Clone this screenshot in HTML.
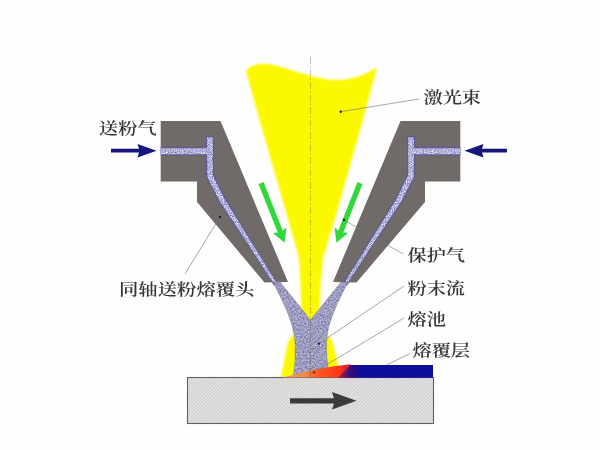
<!DOCTYPE html>
<html lang="zh">
<head>
<meta charset="utf-8">
<title>同轴送粉激光熔覆</title>
<style>
html,body{margin:0;padding:0;background:#fefefe;}
body{width:600px;height:450px;overflow:hidden;}
svg{display:block;}
text{font-family:"Liberation Serif","Noto Serif CJK SC",serif;font-size:16px;font-weight:600;fill:#363636;}
</style>
</head>
<body>
<svg width="600" height="450" viewBox="0 0 600 450">
<defs>
  <pattern id="hatch" width="2.4" height="2.4" patternUnits="userSpaceOnUse" patternTransform="rotate(-45)">
    <rect width="2.4" height="2.4" fill="#e7e7e7"/>
    <rect width="2.4" height="1" fill="#c8c8c8"/>
  </pattern>
  <pattern id="powder" width="4" height="4" patternUnits="userSpaceOnUse">
    <rect width="4" height="4" fill="#a9a9c4"/>
    <rect x="0" y="0" width="1" height="1" fill="#e2e2f2"/>
    <rect x="2" y="1" width="1" height="1" fill="#6a6a9c"/>
    <rect x="1" y="2" width="1" height="1" fill="#d4d4ea"/>
    <rect x="3" y="3" width="1" height="1" fill="#74749e"/>
    <rect x="0" y="3" width="1" height="1" fill="#8c8cb2"/>
    <rect x="3" y="0" width="1" height="1" fill="#c0c0dc"/>
  </pattern>
  <pattern id="powderL" width="3" height="3" patternUnits="userSpaceOnUse">
    <rect width="3" height="3" fill="#c6c6e0"/>
    <rect x="0" y="0" width="1" height="1" fill="#f0f0fa"/>
    <rect x="2" y="1" width="1" height="1" fill="#8c8cc0"/>
    <rect x="1" y="2" width="1" height="1" fill="#e4e4f4"/>
  </pattern>
  <linearGradient id="pool" x1="284" y1="0" x2="350" y2="0" gradientUnits="userSpaceOnUse">
    <stop offset="0" stop-color="#e6a470"/>
    <stop offset="0.3" stop-color="#f08a48"/>
    <stop offset="0.52" stop-color="#ff5a20"/>
    <stop offset="0.85" stop-color="#ff3218"/>
    <stop offset="1" stop-color="#c81c3c"/>
  </linearGradient>
  <linearGradient id="clad" x1="340" y1="0" x2="362" y2="0" gradientUnits="userSpaceOnUse">
    <stop offset="0" stop-color="#a81a48"/>
    <stop offset="0.45" stop-color="#3a1078"/>
    <stop offset="1" stop-color="#0a0a9c"/>
  </linearGradient>
  <filter id="speckle" x="0" y="0" width="100%" height="100%" color-interpolation-filters="sRGB">
    <feTurbulence type="fractalNoise" baseFrequency="0.6" numOctaves="2" seed="7" result="n"/>
    <feColorMatrix in="n" type="matrix" values="0.6 0 0 0 0.31  0.6 0 0 0 0.31  0.45 0 0 0 0.53  0 0 0 0 1" result="c"/>
    <feComposite in="c" in2="SourceGraphic" operator="in"/>
  </filter>
  <filter id="speckleL" x="0" y="0" width="100%" height="100%" color-interpolation-filters="sRGB">
    <feTurbulence type="fractalNoise" baseFrequency="0.9" numOctaves="2" seed="11" result="n"/>
    <feColorMatrix in="n" type="matrix" values="0.9 0 0 0 0.26  0.9 0 0 0 0.25  0.65 0 0 0 0.53  0 0 0 0 1" result="c"/>
    <feComposite in="c" in2="SourceGraphic" operator="in"/>
  </filter>
  <filter id="chblur" x="-5%" y="-5%" width="110%" height="110%"><feGaussianBlur stdDeviation="0.45"/></filter>
  <filter id="soft" x="-5%" y="-5%" width="110%" height="110%"><feGaussianBlur stdDeviation="0.6"/></filter>
  <filter id="glow" x="-20%" y="-20%" width="140%" height="140%"><feGaussianBlur stdDeviation="1.2"/></filter>
</defs>
<rect width="600" height="450" fill="#fefefe"/>
<g filter="url(#soft)">
  <!-- laser beam -->
  <path d="M246,71 C251,63 264,62 278,66 C298,72 320,80 337,80 C352,80 367,74 377,67 L363,120 L351.5,160 L337.5,210 L323,258 L320.5,285 L319,322 C322,330 330,336 332.5,342 C335,350 337,362 341,377 L281,377 C284,362 286,350 288,342 C291,336 299,330 302,322 L300.5,285 L299,258 L285.5,210 L271,160 L259.5,120 Z" fill="#fcf800" filter="url(#glow)"/>
  <!-- nozzle left -->
  <path d="M160.7,121 L220.5,121 L288,282 L264.5,282.5 L197,202 L197,181.5 L160.7,181.5 Z" fill="#6f6b68"/>
  <!-- nozzle right -->
  <path d="M460.3,121 L400.5,121 L333,282 L356.5,282.5 L425,202 L425,181.5 L460.3,181.5 Z" fill="#6f6b68"/>
  <!-- powder channels -->
  <g filter="url(#chblur)">
    <path d="M160.7,146.8 L210,146.8 L210,155.6 L160.7,155.6 Z M214.2,135.8 L214.1,175.0 L225.4,198.1 L251.5,240.4 L277.9,283.3 L274.1,285.7 L246.5,243.6 L218.6,201.9 L205.9,177.0 L205.8,135.8 Z" fill="#5e5c94"/>
    <path d="M160.7,148.2 L210,148.2 L210,154.3 L160.7,154.3 Z M212.9,137.2 L212.8,175.3 L224.3,198.7 L250.6,241.0 L277.2,283.7 L274.8,285.3 L247.4,243.0 L219.7,201.3 L207.2,176.7 L207.1,137.2 Z" fill="#c6c6e0" filter="url(#speckleL)"/>
    <path d="M460.3,146.8 L411,146.8 L411,155.6 L460.3,155.6 Z M406.8,135.8 L406.9,175.0 L395.6,198.1 L369.5,240.4 L343.1,283.3 L346.9,285.7 L374.5,243.6 L402.4,201.9 L415.1,177.0 L415.2,135.8 Z" fill="#5e5c94"/>
    <path d="M460.3,148.2 L411,148.2 L411,154.3 L460.3,154.3 Z M408.1,137.2 L408.2,175.3 L396.7,198.7 L370.4,241.0 L343.8,283.7 L346.2,285.3 L373.6,243.0 L401.3,201.3 L413.8,176.7 L413.9,137.2 Z" fill="#c6c6e0" filter="url(#speckleL)"/>
  </g>
  <!-- powder stream -->
  <path d="M273,282 L280,282 L310.5,320 L341,282 L348,282 C339,300 327,322 326.5,342 C326,358 328,368 330,377 L293,377 C295,368 295.5,358 295,342 C294,322 282,300 273,282 Z" fill="#9e9ebf" filter="url(#speckle)"/>
  <path d="M273,282 L280,282 L310.5,320 L341,282 L348,282 C339,300 327,322 326.5,342 C326,358 328,368 330,377 L293,377 C295,368 295.5,358 295,342 C294,322 282,300 273,282 Z" fill="none" stroke="#5c5c6c" stroke-opacity="0.55" stroke-width="0.7"/>
  <!-- substrate -->
  <rect x="187.5" y="377.5" width="246" height="46" fill="url(#hatch)" stroke="#606060" stroke-width="1.1"/>
  <!-- melt pool -->
  <path d="M283,377.5 Q322,366.5 351,364.3 L339,377.5 Z" fill="url(#pool)"/>
  <!-- clad layer -->
  <path d="M350,365 L433,365 L433,377.8 L338,377.8 Z" fill="url(#clad)"/>
  <!-- substrate arrow -->
  <path d="M290,398.2 L334,398.2 L332,392 L356.5,400.8 L332,409.5 L334,403.4 L290,403.4 Z" fill="#3a3a3a"/>
  <!-- blue arrows -->
  <path d="M111,148.8 L139,148.8 L137.5,144 L156.5,150.7 L137.5,157.4 L139,152.6 L111,152.6 Z" fill="#14147c"/>
  <path d="M507,148.8 L482,148.8 L483.5,144 L464.5,150.7 L483.5,157.4 L482,152.6 L507,152.6 Z" fill="#14147c"/>
  <!-- green arrows -->
  <path d="M258.5,184.0 L277.7,232.6 L272.9,232.9 L284.6,242.8 L286.4,227.6 L282.7,230.6 L263.5,182.0 Z" fill="#32d83a"/>
  <path d="M362.5,184.0 L343.3,232.6 L348.1,232.9 L336.4,242.8 L334.6,227.6 L338.3,230.6 L357.5,182.0 Z" fill="#32d83a"/>
  <!-- axis -->
  <line x1="310.500" y1="57" x2="310.500" y2="377" stroke="#55552a" stroke-opacity="0.5" stroke-width="0.7" stroke-dasharray="7 2 1.5 2"/>
  <!-- leaders -->
  <g stroke="#787878" stroke-width="0.65" fill="none">
    <line x1="340.700" y1="111.700" x2="419" y2="99"/>
    <line x1="344" y1="220" x2="403" y2="254"/>
    <line x1="220" y1="217" x2="185" y2="274"/>
    <line x1="319" y1="343.600" x2="404" y2="286"/>
    <line x1="314" y1="372.400" x2="404" y2="318"/>
    <line x1="387" y1="364.700" x2="410" y2="353.500"/>
  </g>
  <g fill="#1c1c30">
    <circle cx="340.700" cy="111.700" r="1.200"/>
    <circle cx="344" cy="220" r="1.200"/>
    <circle cx="220" cy="217" r="1.200"/>
    <circle cx="319" cy="343.600" r="1.200"/>
    <circle cx="314" cy="372.400" r="1.200" fill="#a01010"/>
  </g>
  <!-- labels -->
  <text transform="translate(99,133.7) scale(1.2,1)">送粉气</text>
  <text transform="translate(423.5,103.2) scale(1.2,1)">激光束</text>
  <text transform="translate(119,295) scale(1.21,1)">同轴送粉熔覆头</text>
  <text transform="translate(407.5,261.2) scale(1.2,1)">保护气</text>
  <text transform="translate(407.5,294.2) scale(1.2,1)">粉末流</text>
  <text transform="translate(407.5,325.2) scale(1.2,1)">熔池</text>
  <text transform="translate(412.5,356.2) scale(1.2,1)">熔覆层</text>
</g>
</svg>
</body>
</html>
